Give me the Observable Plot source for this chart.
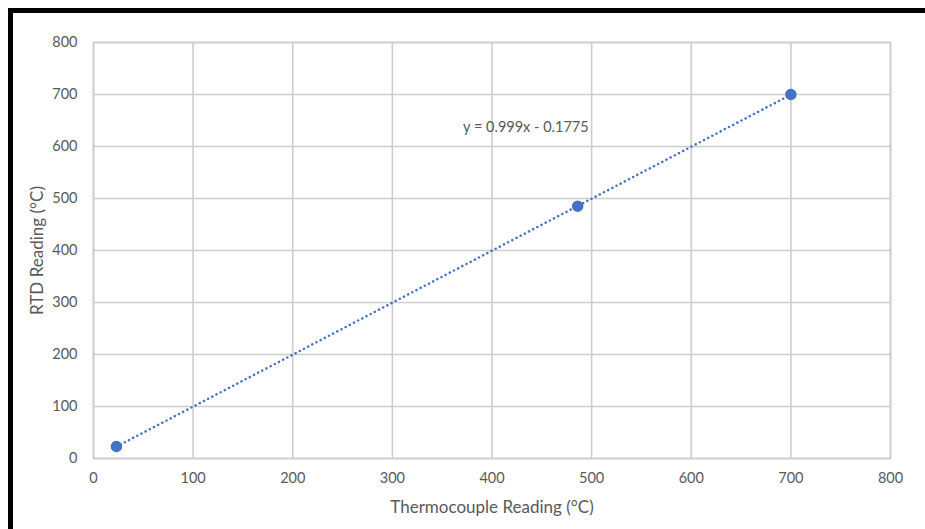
<!DOCTYPE html>
<html>
<head>
<meta charset="utf-8">
<script src="https://cdn.jsdelivr.net/npm/d3@7"></script>
<script src="https://cdn.jsdelivr.net/npm/@observablehq/plot@0.6"></script>
<style>
  html, body { margin: 0; padding: 0; background: #fff; }
  #wrap { position: relative; width: 925px; height: 529px; overflow: hidden; font-family: Lato, "Open Sans", sans-serif; }
  #border { position: absolute; left: 8px; top: 8px; width: 940px; height: 540px; border-top: 5px solid #000; border-left: 5px solid #000; }
  #chart { position: absolute; left: 0; top: 0; }
  g[aria-label="x-axis label"] text, g[aria-label="y-axis label"] text { font-size: 17px; }
</style>
</head>
<body>
<div id="wrap"><div id="border"></div><div id="chart"></div></div>
<script>
const thermocouple = [23, 486, 700];
const rtd = [23, 485, 700];
const xTicks = [0, 100, 200, 300, 400, 500, 600, 700, 800];
const yTicks = [0, 100, 200, 300, 400, 500, 600, 700, 800];
const equation = ["y = 0.999x - 0.1775"];
const equationAt = [{x: 434, y: 636}];

const data = thermocouple.map((x, i) => ({x, y: rtd[i]}));
const blue = "#4472C4";
const grid = "#cdcdcd";
const textColor = "#595959";

const chart = Plot.plot({
  width: 925,
  height: 529,
  marginLeft: 93,
  marginRight: 35,
  marginTop: 42,
  marginBottom: 71,
  style: {fontFamily: "Lato, 'Open Sans', sans-serif", fontSize: "14px", color: textColor, background: "transparent"},
  x: {domain: [0, 800]},
  y: {domain: [0, 800]},
  marks: [
    Plot.gridX(xTicks, {stroke: grid, strokeOpacity: 1, strokeWidth: 1.6}),
    Plot.gridY(yTicks, {stroke: grid, strokeOpacity: 1, strokeWidth: 1.6}),
    Plot.frame({stroke: grid, strokeWidth: 1.6}),
    Plot.axisX(xTicks, {tickSize: 0, tickPadding: 14, fontSize: 14.5, fill: textColor,
      label: "Thermocouple Reading (°C)", labelAnchor: "center", labelOffset: 54, labelArrow: "none"}),
    Plot.axisY(yTicks, {tickSize: 0, tickPadding: 16, fontSize: 14.5, fill: textColor,
      label: "RTD Reading (°C)", labelAnchor: "center", labelOffset: 63, labelArrow: "none"}),
    Plot.linearRegressionY(data, {x: "x", y: "y", ci: 0, stroke: blue, strokeWidth: 2.5,
      strokeDasharray: "0.1,4.6", strokeLinecap: "round"}),
    Plot.dot(data, {x: "x", y: "y", r: 5, fill: blue, stroke: blue}),
    Plot.text(equationAt, {x: "x", y: "y", text: () => equation[0], fontSize: 14.5, fill: textColor})
  ]
});
document.getElementById("chart").appendChild(chart);
</script>
</body>
</html>
